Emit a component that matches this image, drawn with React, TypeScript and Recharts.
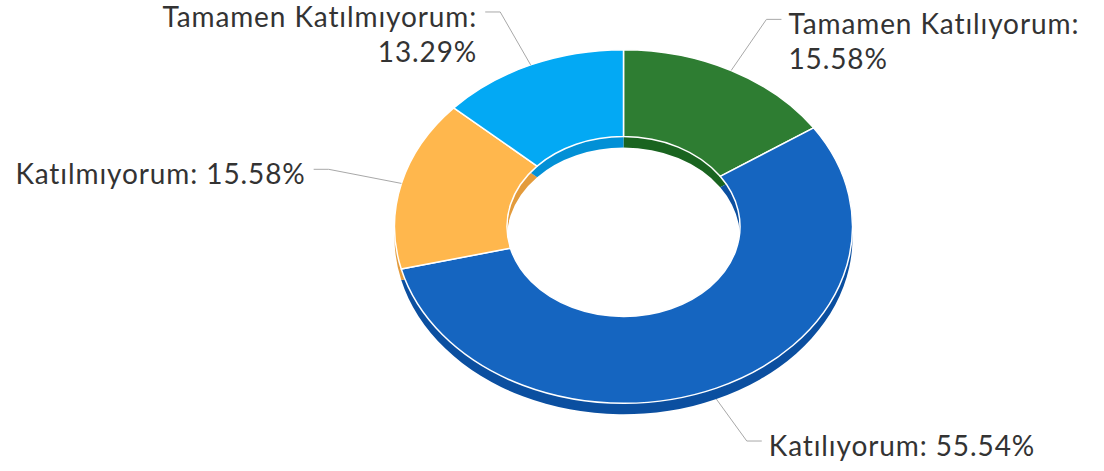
import { PieChart, Pie, Cell } from 'recharts';

const categories = ['Tamamen Katılıyorum', 'Katılıyorum', 'Katılmıyorum', 'Tamamen Katılmıyorum'];
const shares = [15.58, 55.54, 15.58, 13.29];
const topColors = ['#2e7d32', '#1565c0', '#ffb74d', '#03a9f4'];
const sideColors = ['#1a6420', '#0b4fa0', '#e39b3c', '#0290d6'];

const W = 1104;
const H = 471;
const CX = 623.5;
const CY = 226.5;
const OUTER = 229;
const INNER = 116.5;
const TILT = 0.772; // vertical squash of the tilted disc
const DEPTH = 11;
const RAD = Math.PI / 180;

const data = categories.map((name, i) => ({ name, value: shares[i] }));

function pt(cx: number, cy: number, r: number, deg: number) {
  return [cx + r * Math.cos(-deg * RAD), cy + TILT * r * Math.sin(-deg * RAD)];
}

// ring sector drawn on an ellipse instead of a circle
function EllipseSector(props: any) {
  const { cx, cy, innerRadius, outerRadius, startAngle, endAngle, fill, stroke, strokeWidth } = props;
  const [x1, y1] = pt(cx, cy, outerRadius, startAngle);
  const [x2, y2] = pt(cx, cy, outerRadius, endAngle);
  const [x3, y3] = pt(cx, cy, innerRadius, endAngle);
  const [x4, y4] = pt(cx, cy, innerRadius, startAngle);
  const large = Math.abs(endAngle - startAngle) > 180 ? 1 : 0;
  const cw = endAngle < startAngle ? 1 : 0;
  const d =
    `M${x1},${y1} A${outerRadius},${outerRadius * TILT} 0 ${large} ${cw} ${x2},${y2} ` +
    `L${x3},${y3} A${innerRadius},${innerRadius * TILT} 0 ${large} ${1 - cw} ${x4},${y4} Z`;
  return <path d={d} fill={fill} stroke={stroke} strokeWidth={strokeWidth} strokeLinejoin="round" />;
}

function renderLabel(props: any) {
  const { cx, cy, midAngle, outerRadius, index } = props;
  const c = Math.cos(-midAngle * RAD);
  const s = Math.sin(-midAngle * RAD);
  const front = s > 0;
  const right = c >= 0;
  const px = cx + outerRadius * c;
  const py = cy + TILT * outerRadius * s + (front ? DEPTH : 0);
  const R = outerRadius + 75;
  const bx = cx + R * c;
  const by = cy + TILT * R * s;
  const hx = bx + (right ? 15 : -15);
  const tx = hx + (right ? 7 : -8);
  const name = categories[index];
  const pct = `${shares[index].toFixed(2)}%`;
  const wrap = name.length > 14;
  return (
    <g key={`lbl-${index}`}>
      <polyline
        points={`${px},${py} ${bx},${by} ${hx},${by}`}
        fill="none"
        stroke="#a8a8a8"
        strokeWidth={1}
      />
      <text
        x={tx}
        y={by + 15}
        textAnchor={right ? 'start' : 'end'}
        fill="#333333"
        style={{ fontFamily: 'Lato, sans-serif', fontSize: 28, letterSpacing: 0.9 }}
      >
        {wrap ? (
          <>
            <tspan x={tx}>{`${name}:`}</tspan>
            <tspan x={tx} dy={35}>{pct}</tspan>
          </>
        ) : (
          `${name}: ${pct}`
        )}
      </text>
    </g>
  );
}

export default function App() {
  return (
    <div style={{ position: 'absolute', left: 0, top: 0, width: W, height: H, background: '#fff' }}>
      <PieChart width={W} height={H} margin={{ top: 0, right: 0, bottom: 0, left: 0 }}>
        {/* side walls: same ring pushed down by the depth */}
        <Pie
          data={data}
          dataKey="value"
          nameKey="name"
          cx={CX}
          cy={CY + DEPTH}
          innerRadius={INNER}
          outerRadius={OUTER}
          startAngle={90}
          endAngle={-270}
          stroke="none"
          shape={EllipseSector}
          activeShape={EllipseSector}
          inactiveShape={EllipseSector}
          label={false}
          labelLine={false}
          isAnimationActive={false}
        >
          {data.map((d, i) => (
            <Cell key={d.name} fill={sideColors[i]} />
          ))}
        </Pie>
        <Pie
          data={data}
          dataKey="value"
          nameKey="name"
          cx={CX}
          cy={CY}
          innerRadius={INNER}
          outerRadius={OUTER}
          startAngle={90}
          endAngle={-270}
          stroke="#ffffff"
          strokeWidth={1.5}
          shape={EllipseSector}
          activeShape={EllipseSector}
          inactiveShape={EllipseSector}
          label={renderLabel}
          labelLine={false}
          isAnimationActive={false}
        >
          {data.map((d, i) => (
            <Cell key={d.name} fill={topColors[i]} />
          ))}
        </Pie>
      </PieChart>
    </div>
  );
}
